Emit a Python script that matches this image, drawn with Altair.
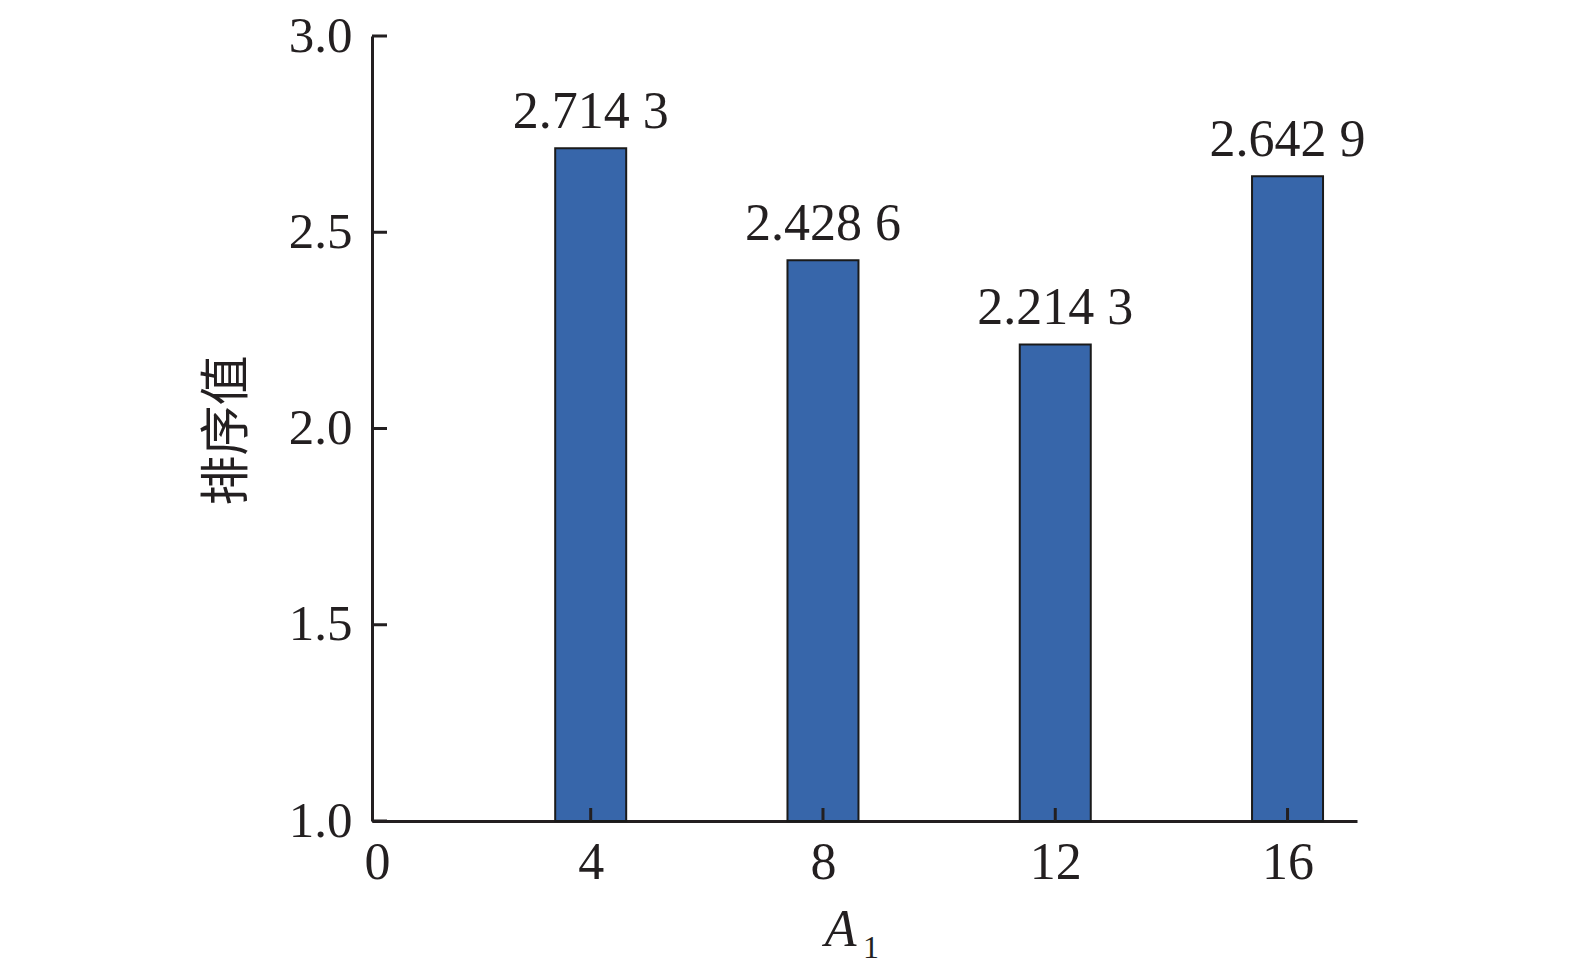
import altair as alt
import pandas as pd

# Data
A1_LEVELS = [4, 8, 12, 16]
SORT_VALUES = [2.7143, 2.4286, 2.2143, 2.6429]
VALUE_LABELS = ["2.714 3", "2.428 6", "2.214 3", "2.642 9"]
Y_TICKS = [1.0, 1.5, 2.0, 2.5, 3.0]
X_TICKS = [4, 8, 12, 16]
X_MIN, X_MAX = 0.32, 17.11
Y_MIN, Y_MAX = 1.0, 3.0

df = pd.DataFrame({"A1": A1_LEVELS, "v": SORT_VALUES, "lab": VALUE_LABELS})
yt = pd.DataFrame({"t": Y_TICKS})
xt = pd.DataFrame({"t": X_TICKS})

W, H = 985, 785
SERIF = "Liberation Serif"
INK = "#231f20"

xscale = alt.Scale(domain=[X_MIN, X_MAX], nice=False, zero=False)
yscale = alt.Scale(domain=[Y_MIN, Y_MAX], nice=False, zero=False)

x_axis = alt.Axis(
    values=[X_MIN] + X_TICKS, format="d",
    labelExpr="datum.value < 1 ? '0' : datum.label",
    ticks=False, tickSize=0, grid=False,
    domainColor=INK, domainWidth=3,
    labelFont=SERIF, labelFontSize=52, labelColor=INK,
    labelPadding=16, labelBaseline="top", labelFlush=False, labelOverlap=False,
    title="A", titleFont=SERIF, titleFontSize=52, titleFontStyle="italic",
    titleFontWeight="normal", titleColor=INK,
    titleX=468, titleY=124, titleBaseline="alphabetic", titleAlign="center",
)
y_axis = alt.Axis(
    values=Y_TICKS, format=".1f",
    ticks=False, tickSize=0, grid=False,
    domainColor=INK, domainWidth=3,
    labelFont=SERIF, labelFontSize=51, labelColor=INK,
    labelPadding=20, labelFlush=False, labelOverlap=False,
    title="排序值", titleFont="Noto Sans CJK SC", titleFontSize=50,
    titleFontWeight="normal", titleColor=INK, titleAngle=270,
    titleX=-145, titleY=394, titleAlign="center", titleBaseline="middle",
)

bars = alt.Chart(df).mark_bar(
    size=71, color="#3766aa", stroke="#1a1a1a", strokeWidth=2
).encode(
    x=alt.X("A1:Q", scale=xscale, axis=x_axis),
    y=alt.Y("v:Q", scale=yscale, axis=y_axis),
    y2=alt.datum(Y_MIN),
)

labels = alt.Chart(df).mark_text(
    font=SERIF, fontSize=52, color=INK, baseline="alphabetic", dy=-20
).encode(
    x=alt.X("A1:Q", scale=xscale),
    y=alt.Y("v:Q", scale=yscale),
    text="lab:N",
)

yticks = alt.Chart(yt).mark_rule(color=INK, strokeWidth=3).encode(
    y=alt.Y("t:Q", scale=yscale), x=alt.value(0), x2=alt.value(15)
)
xticks = alt.Chart(xt).mark_rule(color=INK, strokeWidth=3).encode(
    x=alt.X("t:Q", scale=xscale), y=alt.value(H), y2=alt.value(H - 13)
)
sub = alt.Chart(pd.DataFrame({"s": ["1"]})).mark_text(
    font=SERIF, fontSize=32, color=INK, baseline="alphabetic", align="center"
).encode(x=alt.value(499), y=alt.value(H + 137), text="s:N")

chart = alt.layer(bars, xticks, yticks, labels, sub).properties(
    width=W, height=H,
    autosize=alt.AutoSizeParams(type="none"),
    padding={"left": 364, "top": 28, "right": 200, "bottom": 155},
).configure(background="white").configure_view(stroke="transparent", strokeWidth=0)

chart.save("out.html", embed_options={"renderer": "svg", "actions": False})
